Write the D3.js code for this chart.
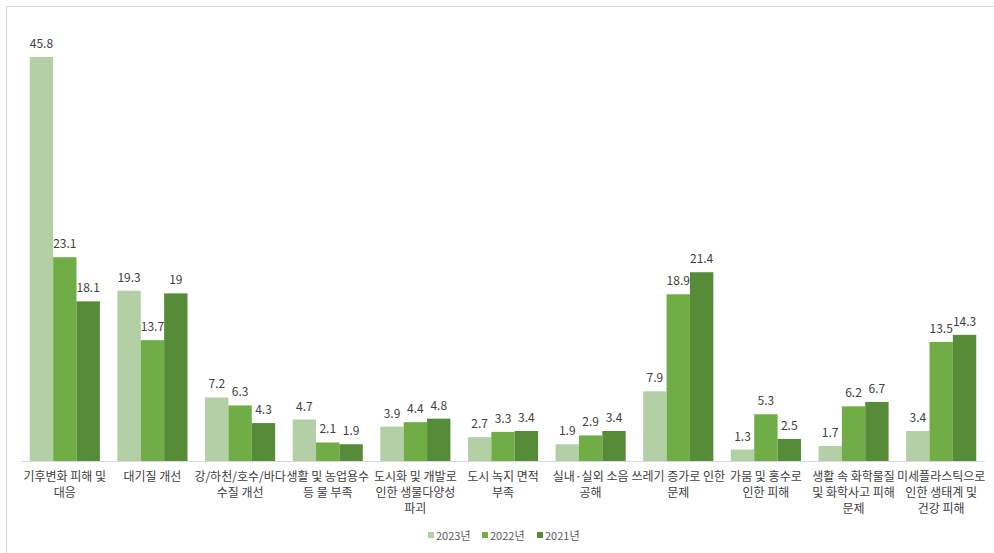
<!DOCTYPE html>
<html>
<head>
<meta charset="utf-8">
<script src="https://cdn.jsdelivr.net/npm/d3@7"></script>
<style>
  body { margin: 0; background: #fff; }
  text { font-family: "Noto Sans CJK KR", "Noto Sans", sans-serif; }
</style>
</head>
<body>
<div id="plot"></div>
<script>
var categories = [
  ["기후변화 피해 및", "대응"],
  ["대기질 개선"],
  ["강/하천/호수/바다", "수질 개선"],
  ["생활 및 농업용수", "등 물 부족"],
  ["도시화 및 개발로", "인한 생물다양성", "파괴"],
  ["도시 녹지 면적", "부족"],
  ["실내·실외 소음", "공해"],
  ["쓰레기 증가로 인한", "문제"],
  ["가뭄 및 홍수로", "인한 피해"],
  ["생활 속 화학물질", "및 화학사고 피해", "문제"],
  ["미세플라스틱으로", "인한 생태계 및", "건강 피해"]
];
var years = ["2023년", "2022년", "2021년"];
var v2023 = [45.8, 19.3, 7.2, 4.7, 3.9, 2.7, 1.9, 7.9, 1.3, 1.7, 3.4];
var v2022 = [23.1, 13.7, 6.3, 2.1, 4.4, 3.3, 2.9, 18.9, 5.3, 6.2, 13.5];
var v2021 = [18.1, 19, 4.3, 1.9, 4.8, 3.4, 3.4, 21.4, 2.5, 6.7, 14.3];
var colors = ["#b3cfa5", "#70ad47", "#568c37"];

var series = [v2023, v2022, v2021];

var svg = d3.select("div#plot")
  .append("svg")
  .attr("width", 994)
  .attr("height", 553);

// frame
svg.append("rect")
  .attr("x", 6.5).attr("y", 6.5)
  .attr("width", 994).attr("height", 560)
  .attr("fill", "none")
  .attr("stroke", "#d9d9d9");

var baseY = 461;
var x0 = d3.scaleBand()
  .domain(d3.range(categories.length))
  .range([21, 985])
  .paddingInner(0.2)
  .paddingOuter(0.1);
var x1 = d3.scaleBand()
  .domain(d3.range(years.length))
  .range([0, x0.bandwidth()]);
var y = d3.scaleLinear()
  .domain([0, 45.8])
  .range([baseY, 57]);

var groups = svg.selectAll("g.cat")
  .data(categories)
  .join("g")
  .attr("class", "cat")
  .attr("transform", (d, i) => `translate(${x0(i)},0)`);

groups.each(function(d, i) {
  var g = d3.select(this);
  series.forEach(function(s, j) {
    g.append("rect")
      .attr("x", x1(j))
      .attr("y", y(s[i]))
      .attr("width", x1.bandwidth())
      .attr("height", baseY - y(s[i]))
      .attr("fill", colors[j]);
    g.append("text")
      .attr("x", x1(j) + x1.bandwidth() / 2)
      .attr("y", y(s[i]) - 9)
      .attr("text-anchor", "middle")
      .style("font-size", "12px")
      .attr("fill", "#404040")
      .text(s[i]);
  });
});

// axis line
svg.append("line")
  .attr("x1", 21).attr("x2", 985)
  .attr("y1", baseY + 0.5).attr("y2", baseY + 0.5)
  .attr("stroke", "#d9d9d9");

// category labels
categories.forEach(function(lines, i) {
  var t = svg.append("text")
    .attr("text-anchor", "middle")
    .attr("fill", "#404040")
    .style("font-size", "12px");
  lines.forEach(function(l, k) {
    t.append("tspan")
      .attr("x", x0(i) + x0.bandwidth() / 2)
      .attr("y", 481 + k * 16)
      .text(l);
  });
});

// legend
var legendX = [428, 482, 537];
years.forEach(function(yr, j) {
  svg.append("rect")
    .attr("x", legendX[j]).attr("y", 532)
    .attr("width", 6).attr("height", 6)
    .attr("fill", colors[j]);
  svg.append("text")
    .attr("x", legendX[j] + 8).attr("y", 539.5)
    .style("font-size", "11px")
    .attr("fill", "#595959")
    .text(yr);
});
</script>
</body>
</html>
